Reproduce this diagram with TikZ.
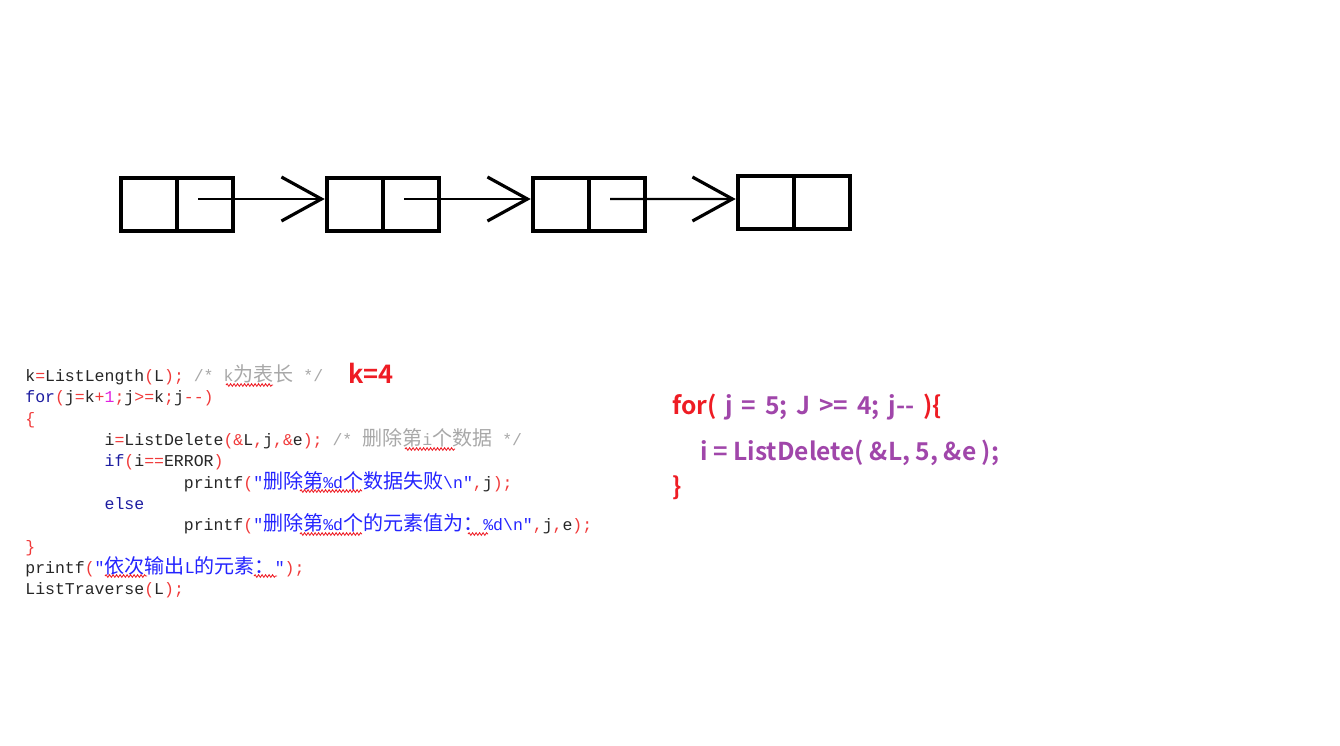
\documentclass[tikz,border=0pt]{standalone}
\usepackage{fontspec}
\usepackage{tikz}
\usetikzlibrary{arrows.meta, positioning, decorations.pathmorphing}
\definecolor{cdKw}{HTML}{1C1CA0}
\definecolor{cdOp}{HTML}{F03A3A}
\definecolor{cdNum}{HTML}{E020E0}
\definecolor{cdStr}{HTML}{2424FF}
\definecolor{cdCmt}{HTML}{A8A8A8}
\definecolor{cdId}{HTML}{262626}
\definecolor{noteRed}{HTML}{EE1C24}
\definecolor{notePurple}{HTML}{A046AA}
\newfontfamily\codefont{Liberation Mono}
\newfontfamily\cjkfont{Noto Sans CJK SC}
\newfontfamily\notefont{Noto Sans CJK SC}[BoldFont={Noto Sans CJK SC Bold}]
\newcommand{\cop}[1]{\textcolor{cdOp}{#1}}
\newcommand{\ckw}[1]{\textcolor{cdKw}{#1}}
\newcommand{\cnum}[1]{\textcolor{cdNum}{#1}}
\newcommand{\cstr}[1]{\textcolor{cdStr}{#1}}
\newcommand{\ccmt}[1]{\textcolor{cdCmt}{#1}}
\newcommand{\zh}[1]{{\cjkfont\fontsize{11.4pt}{12pt}\selectfont #1}}
\newcommand{\tb}{\hspace*{4.8em}}

\begin{document}
\begin{tikzpicture}[x=0.02cm, y=-0.02cm,
  cell/.style={draw, line width=2.6pt, minimum width=1.12cm,
    minimum height=1.06cm, inner sep=0pt},
  link/.style={line width=1.3pt,
    -{Straight Barb[length=0.8cm, width=0.88cm, line width=1.8pt]}},
  codeln/.style={anchor=base west, inner sep=0pt, text=cdId,
    font=\codefont\fontsize{9.4pt}{12pt}\selectfont},
  note/.style={anchor=base west, inner sep=0pt,
    font=\notefont\bfseries\fontsize{14pt}{16pt}\selectfont},
  squig/.style={noteRed, line width=0.5pt,
    decorate, decoration={snake, amplitude=0.025cm, segment length=0.07cm}}]
  \useasboundingbox (0,0) rectangle (1340,745);

  % linked list
  \node[cell] (n1a) at (149,204.5) {};
  \node[cell] (n1b) at (205,204.5) {};
  \node[cell] (n2a) at (355,204.5) {};
  \node[cell] (n2b) at (411,204.5) {};
  \node[cell] (n3a) at (561,204.5) {};
  \node[cell] (n3b) at (617,204.5) {};
  \node[cell] (n4a) at (766,202.5) {};
  \node[cell] (n4b) at (822,202.5) {};
  \draw[link] ([xshift=-0.14cm, yshift=0.11cm]n1b.center) -- ([yshift=0.11cm]n2a.west);
  \draw[link] ([xshift=-0.14cm, yshift=0.11cm]n2b.center) -- ([yshift=0.11cm]n3a.west);
  \draw[link] ([xshift=-0.14cm, yshift=0.11cm]n3b.center) -- ([yshift=0.07cm]n4a.west);

  % code listing
  \node[codeln] (l1) at (25,381) {k\cop{=}ListLength\cop{(}L\cop{);} \ccmt{/* k\zh{为表长} */}};
  \node[codeln] (l2) at (25,402.5) {\ckw{for}\cop{(}j\cop{=}k\cop{+}\cnum{1}\cop{;}j\cop{>=}k\cop{;}j\cop{-{}-)}};
  \node[codeln] (l3) at (25,424) {\cop{\{}};
  \node[codeln] (l4) at (25,445) {\tb i\cop{=}ListDelete\cop{(\&}L\cop{,}j\cop{,\&}e\cop{);} \ccmt{/* \zh{删除第}i\zh{个数据} */}};
  \node[codeln] (l5) at (25,466.5) {\tb\ckw{if}\cop{(}i\cop{==}ERROR\cop{)}};
  \node[codeln] (l6) at (25,488) {\tb\tb printf\cop{(}\cstr{"\zh{删除第}\%d\zh{个数据失败}\textbackslash n"}\cop{,}j\cop{);}};
  \node[codeln] (l7) at (25,509) {\tb\ckw{else}};
  \node[codeln] (l8) at (25,530.5) {\tb\tb printf\cop{(}\cstr{"\zh{删除第}\%d\zh{个的元素值为：}\%d\textbackslash n"}\cop{,}j\cop{,}e\cop{);}};
  \node[codeln] (l9) at (25,552) {\cop{\}}};
  \node[codeln] (l10) at (25,573) {printf\cop{(}\cstr{"\zh{依次输出}L\zh{的元素：}"}\cop{);}};
  \node[codeln] (l11) at (25,594.5) {ListTraverse\cop{(}L\cop{);}};

  % spell-check marks
  \draw[squig] (226,385) -- (273,385);
  \draw[squig] (405,449) -- (455,449);
  \draw[squig] (300,491) -- (362,491);
  \draw[squig] (300,534) -- (362,534);
  \draw[squig] (468,534) -- (488,534);
  \draw[squig] (105,576) -- (147,576);
  \draw[squig] (254,576) -- (277,576);

  % notes
  \node[note, text=noteRed] (kval) at (348,383) {\fontsize{14.5pt}{16pt}\selectfont k=4};
  \node[note] (r1) at (672,414) {\spaceskip=0.36em \textcolor{noteRed}{for(} \textcolor{notePurple}{j = 5; J >= 4; j-{}-} \textcolor{noteRed}{)\{}};
  \node[note, text=notePurple] (r2) at (700,460) {i = ListDelete( \&L, 5, \&e );};
  \node[note, text=noteRed] (r3) at (672,495) {\}};
\end{tikzpicture}
\end{document}
